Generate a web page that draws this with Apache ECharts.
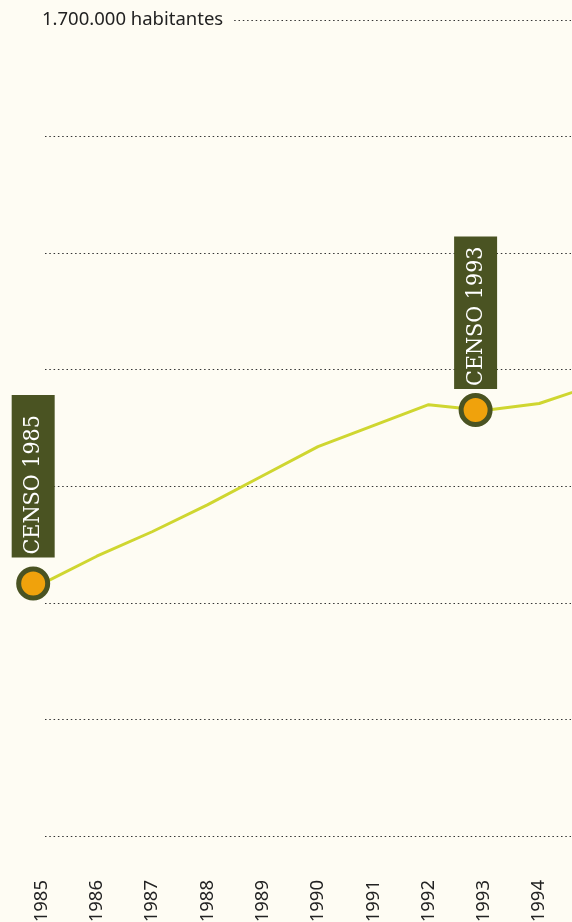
<!DOCTYPE html>
<html>
<head>
<meta charset="utf-8">
<script src="https://cdn.jsdelivr.net/npm/echarts@6/dist/echarts.min.js"></script>
<style>
  html, body { margin: 0; padding: 0; background: #fefcf3; }
  #chart { width: 572px; height: 922px; }
</style>
</head>
<body>
<div id="chart"></div>
<script>
  // población por año (1995 solo para que la línea siga hasta el borde)
  var anios = [1985, 1986, 1987, 1988, 1989, 1990, 1991, 1992, 1993, 1994, 1995];
  var poblacion = [1216000, 1240000, 1261000, 1284000, 1309000, 1334000, 1352000, 1370000, 1365000, 1371000, 1387000];
  var aniosEje = [1985, 1986, 1987, 1988, 1989, 1990, 1991, 1992, 1993, 1994];

  // censos
  var censoNombre = ['CENSO 1985', 'CENSO 1993'];
  var censoFecha = [1984.85, 1992.85];
  var censoValor = [1216600, 1365500];

  var yTicks = [1000000, 1700000];
  var etiquetaTope = '1.700.000 habitantes';

  var fondo = '#fefcf3';
  var oliva = '#4a5322';

  var censoLabel = [
    { distance: 9, padding: [10, 20, 10, 3] },
    { distance: 4, padding: [10, 10, 10, 3] }
  ];

  var censos = censoNombre.map(function (n, i) {
    return {
      name: n,
      value: [censoFecha[i], censoValor[i]],
      label: censoLabel[i]
    };
  });

  var chart = echarts.init(document.getElementById('chart'));

  var option = {
    backgroundColor: fondo,
    animation: false,
    grid: [
      { left: 0, right: 0, top: 20, bottom: 86, containLabel: false, outerBoundsMode: 'none' },
      { left: 45, right: 1, top: 20, bottom: 86, containLabel: false, outerBoundsMode: 'none' }
    ],
    xAxis: [{
      gridIndex: 0,
      type: 'value',
      min: 1984.25,
      max: 1994.593,
      axisLine: { show: false },
      axisTick: { show: false },
      splitLine: { show: false },
      axisLabel: {
        customValues: aniosEje,
        rotate: 90,
        margin: 44,
        fontSize: 18.5,
        fontFamily: 'Noto Sans',
        color: '#222',
        formatter: function (v) { return String(v); }
      }
    }, {
      gridIndex: 1,
      type: 'value',
      show: false,
      min: 0,
      max: 1
    }],
    yAxis: [{
      gridIndex: 0,
      type: 'value',
      min: yTicks[0],
      max: yTicks[1],
      interval: 100000,
      show: false
    }, {
      gridIndex: 1,
      type: 'value',
      min: yTicks[0],
      max: yTicks[1],
      interval: 100000,
      axisLine: { show: false },
      axisTick: { show: false },
      splitLine: {
        show: true,
        lineStyle: { color: '#333', width: 1, type: [1.5, 2.8] }
      },
      axisLabel: {
        inside: true,
        margin: -3,
        customValues: [yTicks[1]],
        formatter: function () { return etiquetaTope; },
        fontSize: 18.5,
        fontFamily: 'Noto Sans',
        color: '#222',
        backgroundColor: fondo,
        padding: [2, 10, 2, 0]
      }
    }],
    series: [{
      type: 'line',
      xAxisIndex: 0,
      yAxisIndex: 0,
      data: anios.map(function (a, i) { return [a, poblacion[i]]; }),
      symbol: 'none',
      lineStyle: { color: '#cfd630', width: 3 },
      z: 3
    }, {
      type: 'scatter',
      xAxisIndex: 0,
      yAxisIndex: 0,
      data: censos,
      symbol: 'circle',
      symbolSize: 29,
      itemStyle: { color: '#f0a20c', borderColor: oliva, borderWidth: 5, opacity: 1 },
      label: {
        show: true,
        position: 'top',
        rotate: 90,
        align: 'left',
        verticalAlign: 'middle',
        formatter: '{b}',
        color: '#fff',
        fontFamily: '"DejaVu Serif Condensed", "DejaVu Serif"',
        fontSize: 23,
        lineHeight: 23,
        backgroundColor: oliva
      },
      z: 5
    }]
  };

  chart.setOption(option);
</script>
</body>
</html>
